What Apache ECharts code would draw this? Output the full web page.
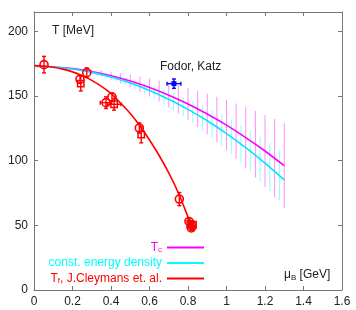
<!DOCTYPE html>
<html>
<head>
<meta charset="utf-8">
<script src="https://cdn.jsdelivr.net/npm/echarts@6/dist/echarts.min.js"></script>
<style>
html,body{margin:0;padding:0;background:#fff;}
#c{width:356px;height:310px;}
</style>
</head>
<body>
<div id="c"></div>
<script>
// ---- data ----
const tcMu   = [0, 0.1, 0.2, 0.3, 0.4, 0.5, 0.6, 0.7, 0.8, 0.9, 1.0, 1.1, 1.2, 1.3];
const tcT    = [173, 172.5, 171.2, 168.9, 165.7, 161.6, 156.6, 150.7, 143.9, 136.1, 127.5, 117.9, 107.5, 96.1];
const edMu   = [0, 0.1, 0.2, 0.3, 0.4, 0.5, 0.6, 0.7, 0.8, 0.9, 1.0, 1.1, 1.2, 1.3];
const edT    = [173, 172.5, 170.9, 168.3, 164.7, 160.0, 154.3, 147.5, 139.7, 130.9, 121.0, 110.1, 98.1, 85.1];
const tfMu   = [0, 0.05, 0.1, 0.15, 0.2, 0.25, 0.3, 0.35, 0.4, 0.45, 0.5, 0.55, 0.6, 0.65, 0.7, 0.75, 0.8, 0.83];
const tfT    = [173.5, 173.2, 172.3, 170.8, 168.7, 165.8, 162.1, 157.5, 152.0, 144.5, 136.5, 127.0, 116.0, 104.0, 90.5, 75.0, 56.5, 45.0];

// error band of Tc (vertical bars)
const tcBandMu = [0.30,0.35,0.40,0.45,0.50,0.55,0.60,0.65,0.70,0.75,0.80,0.85,0.90,0.95,1.00,1.05,1.10,1.15,1.20,1.25,1.30];
const tcBandLo = [167.2,165.0,162.6,159.9,156.7,153.3,149.6,145.6,141.2,136.5,131.5,126.1,120.4,114.4,108.1,101.4,94.4,87.1,79.6,71.6,63.3];
const tcBandHi = [170.6,169.8,168.8,167.7,166.5,165.1,163.6,162.0,160.2,158.3,156.3,154.1,151.8,149.4,146.9,144.2,141.4,138.5,135.4,132.2,128.9];
// error band of const. energy density
const edBandMu = [0.325,0.375,0.425,0.475,0.525,0.575,0.625,0.675,0.725,0.775,0.825,0.875,0.925,0.975,1.025,1.075,1.125,1.175,1.225,1.275];
const edBandLo = [166.2,163.9,161.3,158.5,155.3,151.7,147.8,143.6,139.1,134.3,129.1,123.6,117.8,111.7,105.3,98.5,91.4,83.9,76.2,69.5];
const edBandHi = [168.8,167.5,165.9,164.1,162.1,159.9,157.6,155.0,152.3,149.3,146.1,142.8,139.2,135.5,131.5,127.3,123.0,118.5,113.8,107.5];

// freeze-out points (J. Cleymans et al.)
const fpMu    = [0.052, 0.239, 0.243, 0.274, 0.374, 0.405, 0.416, 0.547, 0.557, 0.755, 0.805, 0.812, 0.820, 0.826, 0.817];
const fpT     = [174.3, 163.0, 159.6, 168.1, 144.9, 149.3, 143.6, 125.3, 120.2, 70.3, 53.0, 51.0, 49.5, 50.5, 48.0];
const fpMuErr = [0.005, 0.005, 0.005, 0.005, 0.030, 0.005, 0.035, 0.005, 0.005, 0.005, 0.005, 0.005, 0.005, 0.005, 0.005];
const fpTErr  = [6.4, 3.0, 5.7, 3.7, 4.5, 3.0, 4.5, 4.0, 6.4, 5.1, 2.0, 2.0, 2.0, 2.0, 2.0];
const fpShape = [0, 0, 1, 0, 0, 0, 1, 0, 1, 0, 0, 1, 0, 1, 0]; // 0 circle, 1 square

// lattice point (Fodor, Katz)
const fkMu = [0.727], fkT = [159.6], fkMuErr = [0.036], fkTErr = [3.6];

const xTicks = {min: 0, max: 1.6, interval: 0.2};
const yTicks = {min: 0, max: 215, interval: 50};

// ---- chart ----
const FONT = 'Liberation Sans';
const zip = (a, b) => a.map((v, i) => [v, b[i]]);

function bandItem(color) {
  return function (params, api) {
    const p1 = api.coord([api.value(0), api.value(1)]);
    const p2 = api.coord([api.value(0), api.value(2)]);
    return {type: 'line', shape: {x1: p1[0], y1: p1[1], x2: p2[0], y2: p2[1]},
            style: {stroke: color, lineWidth: 1}};
  };
}

function errItem(color, filled) {
  return function (params, api) {
    const x = api.value(0), y = api.value(1), xe = api.value(2), ye = api.value(3), sh = api.value(4);
    const c = api.coord([x, y]);
    const t = api.coord([x, y + ye]), b = api.coord([x, y - ye]);
    const l = api.coord([x - xe, y]), r = api.coord([x + xe, y]);
    const st = {stroke: color, lineWidth: 1.4, fill: null};
    const ch = [
      {type: 'line', shape: {x1: t[0], y1: t[1], x2: b[0], y2: b[1]}, style: st},
      {type: 'line', shape: {x1: t[0]-2, y1: t[1], x2: t[0]+2, y2: t[1]}, style: st},
      {type: 'line', shape: {x1: b[0]-2, y1: b[1], x2: b[0]+2, y2: b[1]}, style: st}
    ];
    if (r[0] - l[0] > 3) {
      ch.push({type: 'line', shape: {x1: l[0], y1: l[1], x2: r[0], y2: r[1]}, style: st});
      ch.push({type: 'line', shape: {x1: l[0], y1: l[1]-2, x2: l[0], y2: l[1]+2}, style: st});
      ch.push({type: 'line', shape: {x1: r[0], y1: r[1]-2, x2: r[0], y2: r[1]+2}, style: st});
    }
    if (filled) {
      ch.push({type: 'rect', shape: {x: c[0]-2.5, y: c[1]-2.5, width: 5, height: 5}, style: {fill: color}});
    } else if (sh === 1) {
      ch.push({type: 'rect', shape: {x: c[0]-3.2, y: c[1]-3.2, width: 6.4, height: 6.4}, style: {stroke: color, lineWidth: 1.5, fill: null}});
    } else {
      ch.push({type: 'circle', shape: {cx: c[0], cy: c[1], r: 4}, style: {stroke: color, lineWidth: 1.6, fill: null}});
    }
    return {type: 'group', children: ch};
  };
}

const axisCommon = {
  axisLine: {show: true, onZero: false, lineStyle: {color: '#777', width: 1}},
  axisTick: {show: true, inside: true, length: 4, lineStyle: {color: '#777'}},
  splitLine: {show: false}
};

const chart = echarts.init(document.getElementById('c'), null, {renderer: 'canvas'});
chart.setOption({
  animation: false,
  backgroundColor: '#fff',
  textStyle: {fontFamily: FONT},
  grid: {left: 34, right: 14, top: 12, bottom: 20, containLabel: false},
  xAxis: [
    Object.assign({type: 'value', position: 'bottom'}, xTicks, axisCommon,
      {axisLabel: {fontSize: 12, color: '#222', margin: 6, fontFamily: FONT}}),
    Object.assign({type: 'value', position: 'top'}, xTicks, axisCommon, {axisLabel: {show: false}})
  ],
  yAxis: [
    Object.assign({type: 'value', position: 'left'}, yTicks, axisCommon,
      {axisLabel: {fontSize: 12, color: '#222', margin: 6, showMaxLabel: false, fontFamily: FONT}}),
    Object.assign({type: 'value', position: 'right'}, yTicks, axisCommon, {axisLabel: {show: false}})
  ],
  title: [
    {text: 'T [MeV]', left: 52, top: 25, padding: 0,
     textStyle: {fontSize: 12, fontWeight: 'normal', color: '#222', fontFamily: FONT}},
    {text: 'Fodor, Katz', left: 160, top: 61, padding: 0,
     textStyle: {fontSize: 12, fontWeight: 'normal', color: '#222', fontFamily: FONT}},
    {text: '{m|μ}{s|B}{m| [GeV]}', left: 284, top: 268, padding: 0,
     textStyle: {fontSize: 12, fontWeight: 'normal', color: '#222', fontFamily: FONT,
       rich: {m: {fontSize: 12, color: '#222', fontFamily: FONT, lineHeight: 14},
              s: {fontSize: 8, color: '#222', fontFamily: FONT, lineHeight: 14, padding: [5, 0, 0, 0]}}}}
  ],
  legend: {
    orient: 'vertical', align: 'right', right: 152, top: 241,
    itemWidth: 37, itemHeight: 2, itemGap: 3, icon: 'rect', padding: 0,
    selectedMode: false,
    data: [
      {name: 'Tc', textStyle: {color: '#ff00ff'}},
      {name: 'const. energy density', textStyle: {color: '#00ffff'}},
      {name: 'Tf', textStyle: {color: '#ff0000'}}
    ],
    formatter: function (n) {
      if (n === 'Tc') return '{mt|T}{ms|c}';
      if (n === 'Tf') return '{rt|T}{rs|f}{rt|, J.Cleymans et. al.}';
      return '{c|const. energy density}';
    },
    textStyle: {fontSize: 12, fontFamily: FONT,
      rich: {
        mt: {fontSize: 12, color: '#ff00ff', lineHeight: 14, fontFamily: FONT},
        ms: {fontSize: 8, color: '#ff00ff', lineHeight: 14, padding: [5, 0, 0, 0], fontFamily: FONT},
        c:  {fontSize: 12, color: '#00ffff', lineHeight: 14, fontFamily: FONT},
        rt: {fontSize: 12, color: '#ff0000', lineHeight: 14, fontFamily: FONT},
        rs: {fontSize: 8, color: '#ff0000', lineHeight: 14, padding: [5, 0, 0, 0], fontFamily: FONT}
      }}
  },
  series: [
    {type: 'custom', name: 'tcband', xAxisIndex: 0, yAxisIndex: 0, renderItem: bandItem('#ff8cff'),
     encode: {x: 0, y: [1, 2]}, data: tcBandMu.map((m, i) => [m, tcBandLo[i], tcBandHi[i]]), z: 1},
    {type: 'custom', name: 'edband', xAxisIndex: 0, yAxisIndex: 0, renderItem: bandItem('#8cffff'),
     encode: {x: 0, y: [1, 2]}, data: edBandMu.map((m, i) => [m, edBandLo[i], edBandHi[i]]), z: 1},
    {type: 'line', name: 'Tc', data: zip(tcMu, tcT), showSymbol: false, smooth: 0.3,
     lineStyle: {color: '#ff00ff', width: 1.6}, itemStyle: {color: '#ff00ff'}, z: 3},
    {type: 'line', name: 'const. energy density', data: zip(edMu, edT), showSymbol: false, smooth: 0.3,
     lineStyle: {color: '#00e8ff', width: 1.6}, itemStyle: {color: '#00ffff'}, z: 3},
    {type: 'line', name: 'Tf', data: zip(tfMu, tfT), showSymbol: false, smooth: 0.3,
     lineStyle: {color: '#ff0000', width: 1.6}, itemStyle: {color: '#ff0000'}, z: 3},
    {type: 'custom', name: 'fp', renderItem: errItem('#ff0000', false), encode: {x: 0, y: 1},
     data: fpMu.map((m, i) => [m, fpT[i], fpMuErr[i], fpTErr[i], fpShape[i]]), z: 4},
    {type: 'custom', name: 'fk', renderItem: errItem('#0000ff', true), encode: {x: 0, y: 1},
     data: fkMu.map((m, i) => [m, fkT[i], fkMuErr[i], fkTErr[i], 0]), z: 4}
  ]
});
</script>
</body>
</html>
